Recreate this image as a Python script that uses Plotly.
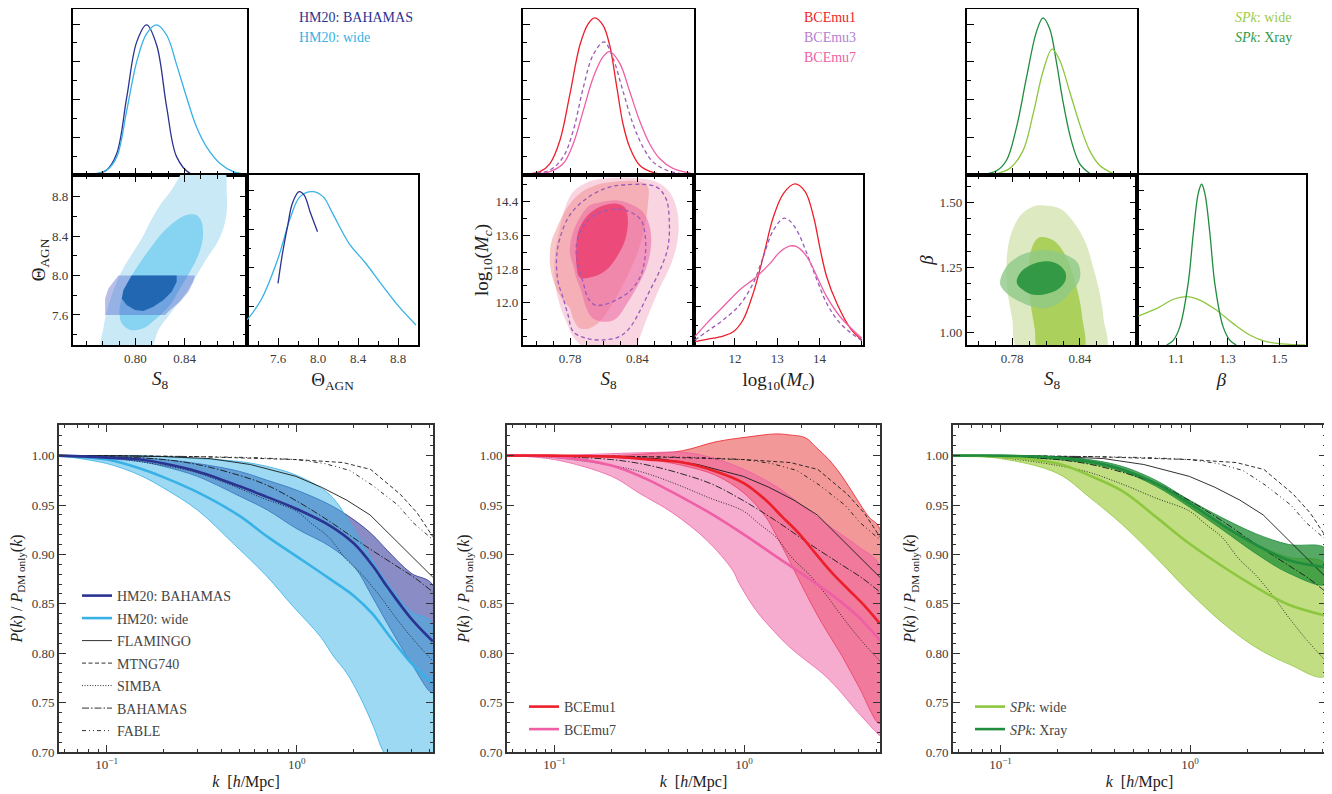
import plotly.graph_objects as go

# ============================ DATA ============================
# ---------- Column 1 : HM20 (S8, Theta_AGN) ----------
HM20_BAH_S8_X = [0.7602, 0.7683, 0.7765, 0.7847, 0.7928, 0.8010, 0.8091, 0.8173, 0.8255, 0.8336, 0.8445, 0.8527]
HM20_BAH_S8_P = [0.002, 0.006, 0.033, 0.142, 0.512, 0.882, 0.995, 0.860, 0.447, 0.120, 0.011, 0.002]
HM20_WIDE_S8_X = [0.7602, 0.7765, 0.7847, 0.7928, 0.8010, 0.8091, 0.8173, 0.8255, 0.8336, 0.8418, 0.8499, 0.8581, 0.8690, 0.8798, 0.8894]
HM20_WIDE_S8_P = [0.002, 0.033, 0.120, 0.425, 0.751, 0.937, 0.995, 0.926, 0.730, 0.512, 0.316, 0.185, 0.076, 0.022, 0.006]
HM20_BAH_TH_X = [7.60, 7.645, 7.695, 7.744, 7.81, 7.86, 7.926, 7.995]
HM20_BAH_TH_P = [0.399, 0.593, 0.766, 0.917, 0.992, 0.971, 0.852, 0.733]
HM20_WIDE_TH_X = [7.29, 7.43, 7.595, 7.727, 7.82, 7.943, 8.05, 8.146, 8.31, 8.477, 8.64, 8.81, 8.98]
HM20_WIDE_TH_P = [0.162, 0.291, 0.550, 0.830, 0.960, 0.992, 0.960, 0.852, 0.658, 0.529, 0.388, 0.248, 0.129]

HM20_WIDE_C95_S8 = [0.7725, 0.7738, 0.7765, 0.7806, 0.7860, 0.7915, 0.7983, 0.8051, 0.8119, 0.8200, 0.8282, 0.8350, 0.8404,
                    0.8717, 0.8744, 0.8744, 0.8717, 0.8663, 0.8581, 0.8500, 0.8418, 0.8336, 0.8255, 0.8187, 0.8110]
HM20_WIDE_C95_TH = [7.25, 7.465, 7.633, 7.802, 7.971, 8.106, 8.240, 8.375, 8.544, 8.713, 8.848, 8.983, 9.084,
                    9.084, 8.848, 8.645, 8.477, 8.325, 8.173, 8.004, 7.836, 7.701, 7.566, 7.448, 7.25]
HM20_WIDE_C68_S8 = [0.8500, 0.8540, 0.8549, 0.8513, 0.8445, 0.8364, 0.8282, 0.8173, 0.8064, 0.7956, 0.7888, 0.7869,
                    0.7888, 0.7942, 0.8024, 0.8119, 0.8228, 0.8336, 0.8432]
HM20_WIDE_C68_TH = [8.611, 8.544, 8.375, 8.207, 8.038, 7.869, 7.701, 7.566, 7.465, 7.448, 7.515, 7.633,
                    7.768, 7.937, 8.106, 8.274, 8.443, 8.561, 8.618]
HM20_BAH_C95_S8 = [0.7752, 0.7752, 0.7779, 0.7820, 0.7860, 0.8486, 0.8472, 0.8432, 0.8364, 0.8282, 0.8241]
HM20_BAH_C95_TH = [7.60, 7.768, 7.869, 7.937, 8.00, 8.00, 7.937, 7.836, 7.735, 7.650, 7.60]
HM20_BAH_C68_S8 = [0.7969, 0.8336, 0.8336, 0.8296, 0.8228, 0.8146, 0.8064, 0.7996, 0.7928, 0.7888, 0.7901, 0.7942]
HM20_BAH_C68_TH = [8.00, 8.00, 7.937, 7.836, 7.751, 7.684, 7.640, 7.650, 7.701, 7.768, 7.853, 7.937]

# ---------- Column 2 : BCEmu (S8, log10 Mc) ----------
BCE1_S8_X = [0.7413, 0.7531, 0.7620, 0.7709, 0.7798, 0.7887, 0.7961, 0.8020, 0.8094, 0.8153, 0.8213, 0.8272, 0.8331, 0.8420, 0.8539, 0.8657]
BCE1_S8_P = [0.006, 0.022, 0.076, 0.229, 0.534, 0.860, 1.002, 1.041, 0.991, 0.860, 0.599, 0.338, 0.185, 0.065, 0.017, 0.004]
BCE3_S8_X = [0.7442, 0.7620, 0.7739, 0.7828, 0.7917, 0.8005, 0.8103, 0.8183, 0.8272, 0.8361, 0.8450, 0.8539, 0.8657, 0.8776, 0.8880]
BCE3_S8_P = [0.006, 0.033, 0.120, 0.294, 0.577, 0.795, 0.882, 0.773, 0.555, 0.338, 0.185, 0.087, 0.033, 0.011, 0.004]
BCE7_S8_X = [0.7442, 0.7620, 0.7739, 0.7828, 0.7917, 0.8005, 0.8094, 0.8153, 0.8242, 0.8331, 0.8420, 0.8509, 0.8598, 0.8717, 0.8880]
BCE7_S8_P = [0.004, 0.022, 0.076, 0.207, 0.425, 0.643, 0.784, 0.817, 0.741, 0.555, 0.359, 0.207, 0.109, 0.044, 0.011]
BCE1_MC_X = [11.05, 11.33, 11.72, 11.96, 12.19, 12.43, 12.67, 12.91, 13.15, 13.42, 13.66, 13.86, 14.02, 14.17, 14.41, 14.73, 15.0]
BCE1_MC_P = [0.022, 0.037, 0.058, 0.086, 0.162, 0.334, 0.572, 0.830, 0.981, 1.042, 0.992, 0.830, 0.615, 0.442, 0.270, 0.108, 0.032]
BCE3_MC_X = [11.05, 11.33, 11.72, 12.11, 12.43, 12.67, 12.91, 13.15, 13.27, 13.46, 13.70, 13.94, 14.17, 14.49, 15.0]
BCE3_MC_P = [0.032, 0.086, 0.162, 0.259, 0.399, 0.572, 0.744, 0.820, 0.809, 0.744, 0.593, 0.421, 0.270, 0.140, 0.028]
BCE7_MC_X = [11.05, 11.33, 11.72, 12.11, 12.51, 12.83, 13.07, 13.31, 13.46, 13.70, 13.94, 14.17, 14.49, 15.0]
BCE7_MC_P = [0.054, 0.140, 0.248, 0.356, 0.442, 0.528, 0.604, 0.641, 0.636, 0.572, 0.442, 0.313, 0.183, 0.043]

BCE7_C95_S8 = [0.7827, 0.7975, 0.8152, 0.8359, 0.8567, 0.8685, 0.8750, 0.8768, 0.8744, 0.8685, 0.8596, 0.8522, 0.8463,
               0.8419, 0.8374, 0.7945, 0.7827, 0.7767, 0.7708, 0.7664, 0.7664, 0.7708, 0.7753]
BCE7_C95_MC = [14.63, 14.88, 14.96, 14.96, 14.87, 14.63, 14.23, 13.76, 13.29, 12.82, 12.34, 11.87, 11.48,
               11.16, 10.92, 10.92, 11.20, 11.55, 11.95, 12.50, 13.13, 13.76, 14.23]
BCE1_C95_S8 = [0.7619, 0.7634, 0.7679, 0.7767, 0.7886, 0.8034, 0.8241, 0.8419, 0.8493, 0.8493, 0.8463, 0.8404, 0.8330,
               0.8241, 0.8152, 0.8063, 0.7975, 0.7886, 0.7827, 0.7797, 0.7723, 0.7664, 0.7625]
BCE1_C95_MC = [13.13, 13.45, 13.76, 14.23, 14.59, 14.79, 14.88, 14.87, 14.75, 14.31, 13.76, 13.21, 12.74,
               12.27, 11.87, 11.55, 11.40, 11.40, 11.63, 11.87, 12.11, 12.42, 12.82]
BCE7_C68_S8 = [0.8063, 0.8211, 0.8330, 0.8448, 0.8507, 0.8522, 0.8478, 0.8389, 0.8300, 0.8211, 0.8123, 0.8004, 0.7945,
               0.7901, 0.7856, 0.7827, 0.7797, 0.7827, 0.7901, 0.7975]
BCE7_C68_MC = [14.38, 14.43, 14.35, 14.16, 13.84, 13.37, 12.82, 12.34, 11.95, 11.63, 11.55, 11.63, 11.87,
               12.27, 12.58, 12.90, 13.21, 13.68, 14.08, 14.31]
BCE1_C68_S8 = [0.7871, 0.7945, 0.8063, 0.8211, 0.8285, 0.8315, 0.8294, 0.8226, 0.8123, 0.8004, 0.7886, 0.7856, 0.7856]
BCE1_C68_MC = [13.68, 14.04, 14.27, 14.35, 14.27, 14.00, 13.52, 13.13, 12.78, 12.62, 12.60, 12.90, 13.37]
BCE3_C95_S8 = [0.8300, 0.8567, 0.8655, 0.8685, 0.8670, 0.8596, 0.8507, 0.8419, 0.8330, 0.8241, 0.8093, 0.7945, 0.7827,
               0.7782, 0.7738, 0.7693, 0.7679, 0.7708, 0.7797, 0.7945, 0.8123]
BCE3_C95_MC = [14.80, 14.75, 14.47, 13.92, 13.29, 12.74, 12.27, 11.79, 11.40, 11.20, 11.12, 11.16, 11.32,
               11.71, 12.11, 12.50, 13.05, 13.52, 14.08, 14.47, 14.72]
BCE3_C68_S8 = [0.7856, 0.7945, 0.8063, 0.8211, 0.8330, 0.8433, 0.8472, 0.8463, 0.8419, 0.8330, 0.8211, 0.8093, 0.8019, 0.7960, 0.7915, 0.7871]
BCE3_C68_MC = [13.37, 13.92, 14.14, 14.22, 14.16, 13.96, 13.52, 12.98, 12.58, 12.27, 12.07, 11.95, 11.95, 12.11, 12.50, 12.90]

# ---------- Column 3 : SPk (S8, beta) ----------
SPK_XRAY_S8_X = [0.7544, 0.7662, 0.7750, 0.7838, 0.7926, 0.8014, 0.8073, 0.8132, 0.8191, 0.8249, 0.8323, 0.8397, 0.8485]
SPK_XRAY_S8_P = [0.004, 0.028, 0.098, 0.316, 0.643, 0.947, 1.041, 0.969, 0.751, 0.490, 0.229, 0.076, 0.011]
SPK_WIDE_S8_X = [0.7632, 0.7779, 0.7897, 0.7985, 0.8073, 0.8153, 0.8220, 0.8308, 0.8397, 0.8485, 0.8573, 0.8691]
SPK_WIDE_S8_P = [0.004, 0.044, 0.163, 0.403, 0.686, 0.834, 0.762, 0.555, 0.338, 0.163, 0.065, 0.011]
SPK_XRAY_B_X = [1.064, 1.090, 1.115, 1.147, 1.167, 1.186, 1.199, 1.2115, 1.231, 1.250, 1.282, 1.308, 1.333]
SPK_XRAY_B_P = [0.0, 0.032, 0.119, 0.399, 0.723, 0.981, 1.040, 0.981, 0.723, 0.399, 0.119, 0.032, 0.0]
SPK_WIDE_B_X = [0.955, 1.026, 1.090, 1.141, 1.192, 1.256, 1.320, 1.385, 1.449, 1.538, 1.60]
SPK_WIDE_B_P = [0.188, 0.237, 0.296, 0.313, 0.291, 0.226, 0.140, 0.065, 0.022, 0.004, 0.001]

SPK_WIDE_C95_S8 = [0.8080, 0.8227, 0.8344, 0.8447, 0.8521, 0.8579, 0.8609, 0.8624, 0.7859, 0.7800, 0.7756, 0.7750, 0.7786, 0.7874, 0.7977]
SPK_WIDE_C95_B = [1.488, 1.475, 1.424, 1.347, 1.244, 1.141, 1.052, 0.93, 0.93, 1.052, 1.167, 1.270, 1.373, 1.450, 1.482]
SPK_WIDE_C68_S8 = [0.8080, 0.8168, 0.8256, 0.8330, 0.8388, 0.8418, 0.8427, 0.8035, 0.8000, 0.7970, 0.7947, 0.7947, 0.7977, 0.8021]
SPK_WIDE_C68_B = [1.366, 1.353, 1.308, 1.231, 1.141, 1.064, 0.93, 0.93, 1.013, 1.090, 1.180, 1.270, 1.328, 1.360]
SPK_XRAY_C95_S8 = [0.7697, 0.7756, 0.7874, 0.7991, 0.8138, 0.8285, 0.8374, 0.8403, 0.8388, 0.8315, 0.8227, 0.8109, 0.7991, 0.7874, 0.7756, 0.7697]
SPK_XRAY_C95_B = [1.206, 1.257, 1.296, 1.312, 1.315, 1.296, 1.270, 1.231, 1.193, 1.154, 1.116, 1.093, 1.097, 1.116, 1.148, 1.180]
SPK_XRAY_C68_S8 = [0.7844, 0.7889, 0.7991, 0.8109, 0.8212, 0.8271, 0.8271, 0.8212, 0.8109, 0.7991, 0.7903, 0.7844]
SPK_XRAY_C68_B = [1.206, 1.238, 1.264, 1.273, 1.260, 1.231, 1.199, 1.167, 1.148, 1.144, 1.161, 1.186]

# ---------- Bottom row : P(k)/P_DMonly(k) ----------
K_HM = [0.056, 0.1, 0.15, 0.2, 0.3, 0.5, 0.7, 1.0, 1.5, 2.0, 2.5, 3.0, 4.0, 5.2]
HM_BAH_MID = [1.0, 0.998, 0.996, 0.992, 0.984, 0.969, 0.958, 0.946, 0.929, 0.911, 0.889, 0.867, 0.835, 0.812]
HM_BAH_UP = [1.0, 0.999, 0.998, 0.996, 0.992, 0.984, 0.975, 0.965, 0.950, 0.935, 0.920, 0.904, 0.881, 0.869]
HM_BAH_LO = [1.0, 0.997, 0.994, 0.989, 0.979, 0.959, 0.945, 0.926, 0.908, 0.888, 0.857, 0.830, 0.790, 0.760]
HM_WIDE_MID = [1.0, 0.996, 0.987, 0.978, 0.963, 0.939, 0.918, 0.898, 0.875, 0.858, 0.840, 0.820, 0.790, 0.769]
HM_WIDE_UP = [1.0, 1.0, 1.0, 0.999, 0.997, 0.994, 0.989, 0.980, 0.960, 0.925, 0.894, 0.871, 0.842, 0.830]
K_HM_WLO = [0.056, 0.1, 0.15, 0.2, 0.3, 0.464, 0.695, 0.96, 1.33, 1.56, 1.83, 2.15, 2.53, 2.86, 4.0, 5.2]
HM_WIDE_LO = [1.0, 0.992, 0.980, 0.967, 0.945, 0.911, 0.878, 0.847, 0.817, 0.797, 0.780, 0.756, 0.726, 0.700, 0.655, 0.630]

K_BCE1_UP = [0.056, 0.1, 0.2, 0.316, 0.474, 0.71, 1.06, 1.47, 1.73, 2.11, 2.38, 2.80, 3.29, 3.87, 4.55, 5.2]
BCE1_UP = [1.0, 1.0, 1.0, 1.002, 1.005, 1.014, 1.019, 1.022, 1.021, 1.018, 1.009, 0.996, 0.979, 0.958, 0.938, 0.926]
K_BCE1_LO = [0.056, 0.1, 0.2, 0.316, 0.474, 0.71, 1.0, 1.30, 1.47, 1.73, 2.11, 2.58, 3.29, 4.03, 5.2]
BCE1_LO = [1.0, 0.999, 0.998, 0.996, 0.990, 0.980, 0.962, 0.938, 0.920, 0.894, 0.861, 0.830, 0.797, 0.766, 0.729]
K_BCE1_MID = [0.056, 0.1, 0.2, 0.316, 0.474, 0.71, 1.0, 1.30, 1.59, 1.95, 2.38, 2.92, 3.57, 4.37, 5.2]
BCE1_MID = [1.0, 1.0, 0.999, 0.996, 0.993, 0.984, 0.972, 0.955, 0.938, 0.921, 0.901, 0.881, 0.864, 0.847, 0.830]
K_BCE7 = [0.056, 0.1, 0.2, 0.3, 0.5, 0.7, 1.0, 1.5, 2.0, 3.0, 4.0, 5.2]
BCE7_UP = [1.0, 1.0, 1.002, 1.003, 1.003, 0.997, 0.986, 0.968, 0.950, 0.925, 0.908, 0.888]
BCE7_MID = [1.0, 0.999, 0.990, 0.977, 0.955, 0.939, 0.920, 0.897, 0.881, 0.857, 0.837, 0.813]
K_BCE7_LO = [0.056, 0.1, 0.2, 0.28, 0.42, 0.63, 0.87, 0.94, 1.15, 1.41, 1.72, 2.11, 2.58, 3.16, 3.87, 4.93, 5.2]
BCE7_LO = [1.0, 0.996, 0.979, 0.962, 0.942, 0.915, 0.884, 0.871, 0.844, 0.824, 0.807, 0.793, 0.780, 0.763, 0.743, 0.721, 0.717]

K_SPK = [0.056, 0.1, 0.2, 0.294, 0.44, 0.66, 0.99, 1.48, 2.22, 3.32, 5.2]
SPK_WIDE_UP = [1.0, 0.999, 0.997, 0.994, 0.985, 0.970, 0.950, 0.928, 0.910, 0.897, 0.890]
SPK_WIDE_MID = [1.0, 0.999, 0.992, 0.980, 0.964, 0.938, 0.911, 0.888, 0.867, 0.849, 0.838]
SPK_WIDE_LO = [1.0, 0.997, 0.982, 0.958, 0.930, 0.897, 0.862, 0.831, 0.806, 0.789, 0.777]
SPK_XRAY_UP = [1.0, 1.0, 0.999, 0.996, 0.989, 0.975, 0.955, 0.937, 0.921, 0.910, 0.906]
SPK_XRAY_MID = [1.0, 1.0, 0.998, 0.994, 0.986, 0.972, 0.952, 0.930, 0.910, 0.894, 0.887]
SPK_XRAY_LO = [1.0, 0.999, 0.996, 0.992, 0.984, 0.969, 0.948, 0.925, 0.901, 0.881, 0.870]

K_FLAMINGO = [0.056, 0.1, 0.2, 0.35, 0.57, 0.99, 1.35, 1.83, 2.43, 5.2]
FLAMINGO = [1.0, 1.0, 0.999, 0.997, 0.991, 0.979, 0.968, 0.955, 0.940, 0.877]
K_MTNG = [0.056, 0.1, 0.3, 0.6, 1.0, 1.75, 2.45, 3.5, 4.3, 5.2]
MTNG740 = [1.0, 1.0, 0.999, 0.997, 0.996, 0.993, 0.986, 0.961, 0.942, 0.918]
K_SIMBA = [0.056, 0.1, 0.2, 0.294, 0.44, 0.66, 0.99, 1.2, 1.48, 1.8, 2.22, 2.71, 3.32, 4.06, 5.2]
SIMBA = [1.0, 0.998, 0.990, 0.983, 0.971, 0.957, 0.944, 0.931, 0.917, 0.896, 0.879, 0.859, 0.836, 0.815, 0.792]
K_BAHAMAS = [0.056, 0.1, 0.2, 0.3, 0.46, 0.68, 1.0, 1.5, 2.2, 3.3, 4.2, 5.2]
BAHAMAS = [1.0, 0.999, 0.996, 0.991, 0.982, 0.971, 0.954, 0.933, 0.911, 0.889, 0.876, 0.862]
K_FABLE = [0.056, 0.1, 0.3, 0.6, 1.0, 1.4, 1.9, 2.5, 3.4, 4.1, 5.2]
FABLE = [1.0, 1.0, 0.999, 0.998, 0.996, 0.992, 0.985, 0.970, 0.950, 0.932, 0.915]

# ============================ STYLE ============================
FONT = "Liberation Serif, Times New Roman, serif"
PAGE_W, PAGE_H = 1332, 794
OFF = 8                       # default page margin around the plot div
W, H = PAGE_W - OFF, PAGE_H - OFF
C_NAVY, C_SKY = "#2b3391", "#37b1e6"
C_RED, C_PURP, C_PINK = "#ec1f2a", "#9a5ab8", "#ee5fa6"
C_LGREEN, C_DGREEN = "#8dc63f", "#1f8c3e"


def clamp(v):
    return min(1.0, max(0.0, v))


def fx(px):
    return clamp((px - OFF) / W)


def fy(py):
    return clamp(1 - (py - OFF) / H)


fig = go.Figure()


def names(n):
    return ("x" if n == 1 else f"x{n}"), ("y" if n == 1 else f"y{n}")


def add_line(n, x, y, color, width=1.3, dash="solid", shape="spline", name=None, legend="legend",
             showlegend=False, rank=1000):
    xa, ya = names(n)
    group = f"{legend}-{name}" if showlegend else None
    fig.add_trace(go.Scatter(x=x, y=y, mode="lines", xaxis=xa, yaxis=ya, name=name, legend=legend,
                             showlegend=showlegend, legendrank=rank, legendgroup=group, hoverinfo="skip",
                             line=dict(color=color, width=width, dash=dash, shape=shape)))


def add_poly(n, x, y, fillcolor, shape="spline", edge="rgba(0,0,0,0)", edge_w=0, dash="solid"):
    xa, ya = names(n)
    fig.add_trace(go.Scatter(x=list(x) + [x[0]], y=list(y) + [y[0]], mode="lines", fill="toself",
                             fillcolor=fillcolor, xaxis=xa, yaxis=ya, showlegend=False, hoverinfo="skip",
                             line=dict(color=edge, width=edge_w, shape=shape, dash=dash)))


def add_band(n, ku, vu, kl, vl, fillcolor, edge, edge_w=0.8):
    add_poly(n, list(ku) + list(kl)[::-1], list(vu) + list(vl)[::-1], fillcolor, edge=edge, edge_w=edge_w)


# ---------------- column 1 ----------------
add_line(1, HM20_BAH_S8_X, HM20_BAH_S8_P, C_NAVY)
add_line(1, HM20_WIDE_S8_X, HM20_WIDE_S8_P, C_SKY)
add_poly(2, HM20_WIDE_C95_S8, HM20_WIDE_C95_TH, "#c9e9f7")
add_poly(2, HM20_WIDE_C68_S8, HM20_WIDE_C68_TH, "#87d3f2")
add_poly(2, HM20_BAH_C95_S8, HM20_BAH_C95_TH, "rgba(75,95,200,0.4)", shape="linear")
add_poly(2, HM20_BAH_C68_S8, HM20_BAH_C68_TH, "rgba(30,100,175,0.95)", shape="linear")
add_line(3, HM20_WIDE_TH_X, HM20_WIDE_TH_P, C_SKY)
add_line(3, HM20_BAH_TH_X, HM20_BAH_TH_P, C_NAVY)

# ---------------- column 2 ----------------
add_line(4, BCE1_S8_X, BCE1_S8_P, C_RED)
add_line(4, BCE3_S8_X, BCE3_S8_P, C_PURP, dash="4px,3px")
add_line(4, BCE7_S8_X, BCE7_S8_P, C_PINK)
add_poly(5, BCE7_C95_S8, BCE7_C95_MC, "#f9d4e1")
add_poly(5, BCE1_C95_S8, BCE1_C95_MC, "rgba(240,130,130,0.45)")
add_poly(5, BCE7_C68_S8, BCE7_C68_MC, "rgba(236,110,165,0.6)")
add_poly(5, BCE1_C68_S8, BCE1_C68_MC, "rgba(235,60,110,0.8)")
add_poly(5, BCE3_C95_S8, BCE3_C95_MC, "rgba(0,0,0,0)", edge=C_PURP, edge_w=1.3, dash="4px,3px")
add_poly(5, BCE3_C68_S8, BCE3_C68_MC, "rgba(0,0,0,0)", edge=C_PURP, edge_w=1.3, dash="4px,3px")
add_line(6, BCE1_MC_X, BCE1_MC_P, C_RED)
add_line(6, BCE3_MC_X, BCE3_MC_P, C_PURP, dash="4px,3px")
add_line(6, BCE7_MC_X, BCE7_MC_P, C_PINK)

# ---------------- column 3 ----------------
add_line(7, SPK_XRAY_S8_X, SPK_XRAY_S8_P, C_DGREEN)
add_line(7, SPK_WIDE_S8_X, SPK_WIDE_S8_P, C_LGREEN)
add_poly(8, SPK_WIDE_C95_S8, SPK_WIDE_C95_B, "#dde9c1")
add_poly(8, SPK_WIDE_C68_S8, SPK_WIDE_C68_B, "#abd05b")
add_poly(8, SPK_XRAY_C95_S8, SPK_XRAY_C95_B, "rgba(142,201,136,0.8)")
add_poly(8, SPK_XRAY_C68_S8, SPK_XRAY_C68_B, "rgba(45,150,65,0.95)")
add_line(9, SPK_WIDE_B_X, SPK_WIDE_B_P, C_LGREEN)
add_line(9, SPK_XRAY_B_X, SPK_XRAY_B_P, C_DGREEN)

# ---------------- bottom row ----------------
SIMS = [("FLAMINGO", K_FLAMINGO, FLAMINGO, "solid", "linear"),
        ("MTNG740", K_MTNG, MTNG740, "4px,2.5px", "linear"),
        ("SIMBA", K_SIMBA, SIMBA, "1px,1.6px", "spline"),
        ("BAHAMAS", K_BAHAMAS, BAHAMAS, "7px,2px,1.5px,2px", "spline"),
        ("FABLE", K_FABLE, FABLE, "4px,3px,1px,3px,1px,3px", "linear")]


def add_sims(n, show):
    for i, (nm, k, v, d, sh) in enumerate(SIMS):
        add_line(n, k, v, "#1a1a1a", width=0.9, dash=d, shape=sh, name=nm, legend="legend",
                 showlegend=show, rank=3 + i)


add_band(10, K_HM, HM_BAH_UP, K_HM, HM_BAH_LO, "rgba(40,45,150,0.55)", C_NAVY)
add_band(10, K_HM, HM_WIDE_UP, K_HM_WLO, HM_WIDE_LO, "rgba(60,180,232,0.5)", C_SKY)
add_sims(10, True)
add_line(10, K_HM, HM_WIDE_MID, C_SKY, width=2.6, name="HM20: wide", legend="legend", showlegend=True, rank=2)
add_line(10, K_HM, HM_BAH_MID, C_NAVY, width=2.6, name="HM20: BAHAMAS", legend="legend", showlegend=True, rank=1)

add_band(11, K_BCE1_UP, BCE1_UP, K_BCE1_LO, BCE1_LO, "rgba(232,50,50,0.5)", C_RED)
add_band(11, K_BCE7, BCE7_UP, K_BCE7_LO, BCE7_LO, "rgba(238,90,160,0.5)", C_PINK)
add_sims(11, False)
add_line(11, K_BCE7, BCE7_MID, C_PINK, width=2.6, name="BCEmu7", legend="legend2", showlegend=True, rank=2)
add_line(11, K_BCE1_MID, BCE1_MID, C_RED, width=2.6, name="BCEmu1", legend="legend2", showlegend=True, rank=1)

add_band(12, K_SPK, SPK_WIDE_UP, K_SPK, SPK_WIDE_LO, "rgba(144,195,28,0.55)", C_LGREEN)
add_band(12, K_SPK, SPK_XRAY_UP, K_SPK, SPK_XRAY_LO, "rgba(30,140,50,0.75)", C_DGREEN)
add_sims(12, False)
add_line(12, K_SPK, SPK_WIDE_MID, C_LGREEN, width=2.6, name="<i>SPk</i>: wide", legend="legend3", showlegend=True, rank=1)
add_line(12, K_SPK, SPK_XRAY_MID, C_DGREEN, width=2.6, name="<i>SPk</i>: Xray", legend="legend3", showlegend=True, rank=2)

# ============================ AXES ============================
TICKFONT = dict(family=FONT, size=13, color="#3a3a3a")
TOP = dict(showline=True, linecolor="black", linewidth=2.4, ticks="inside", ticklen=7, tickwidth=1.3,
           tickcolor="black", showgrid=False, zeroline=False, tickfont=TICKFONT, fixedrange=True,
           automargin=False)
BOT = dict(showline=True, linecolor="#333", linewidth=1.6, ticks="inside", ticklen=7, tickwidth=1.1,
           tickcolor="#333", showgrid=False, zeroline=False, tickfont=TICKFONT, fixedrange=True,
           mirror="allticks", automargin=False)


def minor(dtick, tick0=0, color="black"):
    return dict(ticks="inside", ticklen=3.5, tickwidth=1.0, tickcolor=color, dtick=dtick, tick0=tick0, showgrid=False)


def title(text, size=19, standoff=10):
    return dict(text=text, font=dict(family=FONT, size=size, color="#222"), standoff=standoff)


def px_x(a, b):
    return [fx(a), fx(b)]


def px_y(top, bottom):
    return [fy(bottom), fy(top)]


layout = {}


def panel(n, xd, yd, xr, yr, xo, yo):
    xk = "xaxis" if n == 1 else f"xaxis{n}"
    yk = "yaxis" if n == 1 else f"yaxis{n}"
    layout[xk] = dict(domain=xd, range=xr, anchor=("y" if n == 1 else f"y{n}"), **xo)
    layout[yk] = dict(domain=yd, range=yr, anchor=("x" if n == 1 else f"x{n}"), **yo)


Y_TOP = px_y(9, 175)
Y_MID = px_y(175, 345)
DENS = dict(TOP, mirror=True, showticklabels=False, tickmode="linear", tick0=0, dtick=0.25, minor=minor(0.125))

COLS = [
    dict(x1=(73, 247), x2=(247, 418), s8=[0.749, 0.891], s8t=[0.80, 0.84], s8m=(0.04 / 3, 0.8),
         p_y=[7.295, 9.02], p_x=[7.29, 9.0], pt=[7.6, 8.0, 8.4, 8.8], pm=(0.2, 7.6), pfmt=".1f",
         ytitle="Θ<sub>AGN</sub>", xtitle="Θ<sub>AGN</sub>", px_t=None, pxm=(0.2, 7.6), ystand=0),
    dict(x1=(523, 694), x2=(694, 863), s8=[0.738, 0.8905], s8t=[0.78, 0.84], s8m=(0.015, 0.78),
         p_y=[11.0, 15.03], p_x=[11.03, 15.03], pt=[12.0, 12.8, 13.6, 14.4], pm=(0.4, 12.0), pfmt=".1f",
         ytitle="log<sub>10</sub>(<i>M<sub>c</sub></i>)", xtitle="log<sub>10</sub>(<i>M<sub>c</sub></i>)",
         px_t=[12, 13, 14], pxm=(0.5, 12), ystand=2),
    dict(x1=(967, 1137), x2=(1137, 1306), s8=[0.740, 0.8905], s8t=[0.78, 0.84], s8m=(0.015, 0.78),
         p_y=[0.951, 1.605], p_x=[0.949, 1.603], pt=[1.00, 1.25, 1.50], pm=(0.0625, 1.0), pfmt=".2f",
         ytitle="<i>β</i>", xtitle="<i>β</i>", px_t=[1.1, 1.3, 1.5], pxm=(0.2 / 3, 1.1), ystand=1),
]

for c, col in enumerate(COLS):
    n0 = 3 * c + 1
    s8x = dict(TOP, tickmode="array", tickvals=col["s8t"], minor=minor(col["s8m"][0], col["s8m"][1]))
    panel(n0, px_x(*col["x1"]), Y_TOP, col["s8"], [0, 1.1],
          dict(s8x, mirror=True, showticklabels=False), DENS)
    panel(n0 + 1, px_x(*col["x1"]), Y_MID, col["s8"], col["p_y"],
          dict(s8x, mirror="allticks", tickformat=".2f", title=title("<i>S</i><sub>8</sub>", standoff=7)),
          dict(TOP, mirror="allticks", tickmode="array", tickvals=col["pt"], tickformat=col["pfmt"],
               minor=minor(col["pm"][0], col["pm"][1]), title=title(col["ytitle"], standoff=col["ystand"])))
    pxt = col["px_t"] if col["px_t"] is not None else col["pt"]
    pxfmt = ".0f" if c == 1 else ".1f"
    panel(n0 + 2, px_x(*col["x2"]), Y_MID, col["p_x"], [0, 1.1],
          dict(TOP, mirror=True, tickmode="array", tickvals=pxt, tickformat=pxfmt,
               minor=minor(col["pxm"][0], col["pxm"][1]), title=title(col["xtitle"], standoff=8)),
          DENS)

MINOR_K = [0.06, 0.07, 0.08, 0.09, 0.2, 0.3, 0.4, 0.5, 0.6, 0.7, 0.8, 0.9, 2, 3, 4, 5]
Y_BOT = px_y(425, 752)
for i, (a, b) in enumerate([(59, 433), (507, 880), (953, 1326)]):
    n = 10 + i
    panel(n, px_x(a, b), Y_BOT, [-1.251, 0.717], [0.70, 1.031],
          dict(BOT, type="log", tickmode="array", tickvals=[0.1, 1],
               ticktext=["10<sup>−1</sup>", "10<sup>0</sup>"],
               minor=dict(ticks="inside", ticklen=3.5, tickwidth=1.0, tickcolor="#333", tickmode="array",
                          tickvals=MINOR_K, showgrid=False),
               title=title("<i>k</i>  [<i>h</i>/Mpc]", 16, standoff=4)),
          dict(BOT, tickmode="linear", tick0=0.70, dtick=0.05, tickformat=".2f", minor=minor(0.01, 0.7, "#333"),
               title=title("<i>P</i>(<i>k</i>) / <i>P</i><sub>DM only</sub>(<i>k</i>)", 16, standoff=6)))

# ============================ LEGENDS / LABELS ============================
LEGFONT = dict(family=FONT, size=14, color="#444")
leg_common = dict(xanchor="left", yanchor="top", bgcolor="rgba(0,0,0,0)", font=LEGFONT, tracegroupgap=1.3,
                  itemwidth=30, traceorder="grouped")
layout["legend"] = dict(leg_common, x=fx(77), y=fy(580))
layout["legend2"] = dict(leg_common, x=fx(524), y=fy(691))
layout["legend3"] = dict(leg_common, x=fx(970), y=fy(691))

ANN = [
    (297, 18, "HM20: BAHAMAS", C_NAVY), (297, 38, "HM20: wide", C_SKY),
    (802, 18, "BCEmu1", C_RED), (802, 38, "BCEmu3", "#b57fcf"), (802, 58, "BCEmu7", C_PINK),
    (1233, 18, "<i>SPk</i>: wide", "#9ccc45"), (1233, 38, "<i>SPk</i>: Xray", "#2e9a4a"),
]
annotations = [dict(x=fx(x), y=fy(y), xref="paper", yref="paper", xanchor="left", yanchor="middle",
                    text=t, showarrow=False, font=dict(family=FONT, size=14, color=col))
               for x, y, t, col in ANN]

fig.update_layout(width=W, height=H, margin=dict(l=0, r=0, t=0, b=0, autoexpand=False), paper_bgcolor="white",
                  plot_bgcolor="white", annotations=annotations, **layout)

fig.write_html("out.html")
